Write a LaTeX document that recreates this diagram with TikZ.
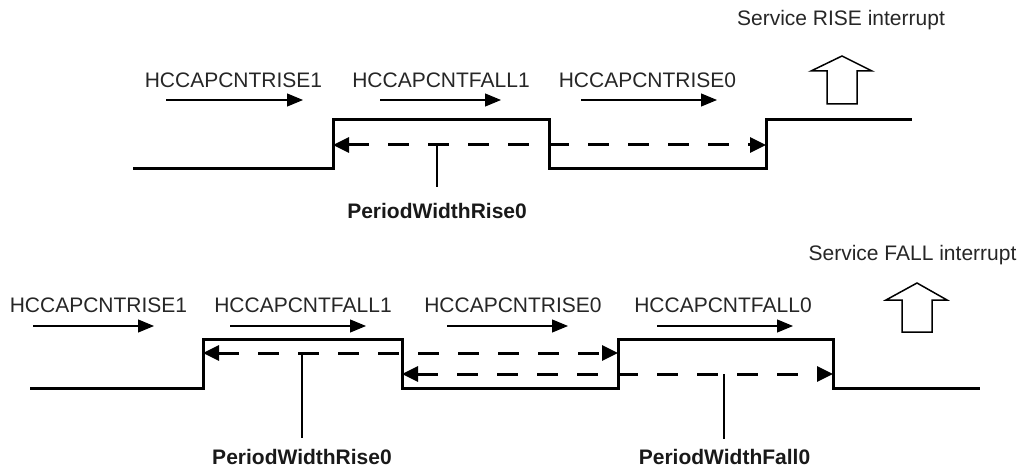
\documentclass[tikz,border=0pt]{standalone}
\usepackage{fontspec}
\setmainfont{Liberation Sans}
\usetikzlibrary{arrows.meta}
\begin{document}
\begin{tikzpicture}[x=1pt,y=-1pt,
  wave/.style={line width=3pt, line join=miter, line cap=rect},
  dimline/.style={line width=3pt, dash pattern=on 21pt off 19pt},
  dimtip/.tip={Triangle[length=16pt,width=15pt]},
  lblarrow/.style={line width=1.2pt, -{Triangle[length=16pt,width=13pt]}},
  leader/.style={line width=1.2pt},
  lbl/.style={font=\fontsize{21}{25}\selectfont, inner sep=0pt, anchor=base, text=black!85},
  boldlbl/.style={font=\fontsize{21}{25}\selectfont\bfseries, inner sep=0pt, anchor=base, text=black!90},
  bigarrow/.style={line width=1.5pt, line join=miter}
]
\useasboundingbox (0,0) rectangle (1026,468);

% ================= top diagram =================
% waveform
\draw[wave] (134,169) -- (333,169) -- (333,120) -- (549,120) -- (549,169)
  -- (766,169) -- (766,120) -- (910,120);
% measurement
\coordinate (tA) at (333,145);
\coordinate (tB) at (766,145);
\draw[dimline, dimtip-dimtip] (tA) -- (tB);
% labels
\node[lbl] (tR1) at (233.5,87.5) {HCCAPCNTRISE1};
\node[lbl] (tF1) at (441,87.5) {HCCAPCNTFALL1};
\node[lbl] (tR0) at (647.5,87.5) {HCCAPCNTRISE0};
\coordinate (tR1a) at (166,100); \coordinate (tR1b) at (303,100);
\coordinate (tF1a) at (380,100); \coordinate (tF1b) at (501,100);
\coordinate (tR0a) at (581,100); \coordinate (tR0b) at (717,100);
\draw[lblarrow] (tR1a) -- (tR1b);
\draw[lblarrow] (tF1a) -- (tF1b);
\draw[lblarrow] (tR0a) -- (tR0b);
% leader
\node[boldlbl] (tPW) at (437,218.5) {PeriodWidthRise0};
\coordinate (tL) at (437,145);
\draw[leader] (tL) -- (437,187);
% interrupt
\node[lbl] (tSI) at (841,26) {Service RISE interrupt};
\draw[bigarrow] (842,56) -- (872,71) -- (857,71) -- (857,104) -- (827,104)
  -- (827,71) -- (811,71) -- cycle;

% ================= bottom diagram =================
\draw[wave] (31,388) -- (203,388) -- (203,339) -- (402,339) -- (402,388)
  -- (618,388) -- (618,339) -- (833,339) -- (833,388) -- (978,388);
\coordinate (bA) at (203,353);
\coordinate (bB) at (618,353);
\coordinate (bC) at (402,374);
\coordinate (bD) at (833,374);
\draw[dimline, dimtip-dimtip] (bA) -- (bB);
\draw[dimline, dimtip-dimtip] (bC) -- (bD);
% labels
\node[lbl] (bR1) at (98.5,312.5) {HCCAPCNTRISE1};
\node[lbl] (bF1) at (303,312.5) {HCCAPCNTFALL1};
\node[lbl] (bR0) at (513,312.5) {HCCAPCNTRISE0};
\node[lbl] (bF0) at (723,312.5) {HCCAPCNTFALL0};
\coordinate (bR1a) at (33,326);  \coordinate (bR1b) at (154,326);
\coordinate (bF1a) at (230,326); \coordinate (bF1b) at (366,326);
\coordinate (bR0a) at (447,326); \coordinate (bR0b) at (568,326);
\coordinate (bF0a) at (657,326); \coordinate (bF0b) at (793,326);
\draw[lblarrow] (bR1a) -- (bR1b);
\draw[lblarrow] (bF1a) -- (bF1b);
\draw[lblarrow] (bR0a) -- (bR0b);
\draw[lblarrow] (bF0a) -- (bF0b);
% leaders
\node[boldlbl] (bPWR) at (302,464) {PeriodWidthRise0};
\node[boldlbl] (bPWF) at (724.5,464) {PeriodWidthFall0};
\coordinate (bL1) at (302,353);
\coordinate (bL2) at (724,374);
\draw[leader] (bL1) -- (302,438);
\draw[leader] (bL2) -- (724,439);
% interrupt
\node[lbl] (bSI) at (912.5,260.5) {Service FALL interrupt};
\draw[bigarrow] (917,283) -- (947,300) -- (932,300) -- (932,332) -- (902,332)
  -- (902,300) -- (886,300) -- cycle;
\end{tikzpicture}
\end{document}
